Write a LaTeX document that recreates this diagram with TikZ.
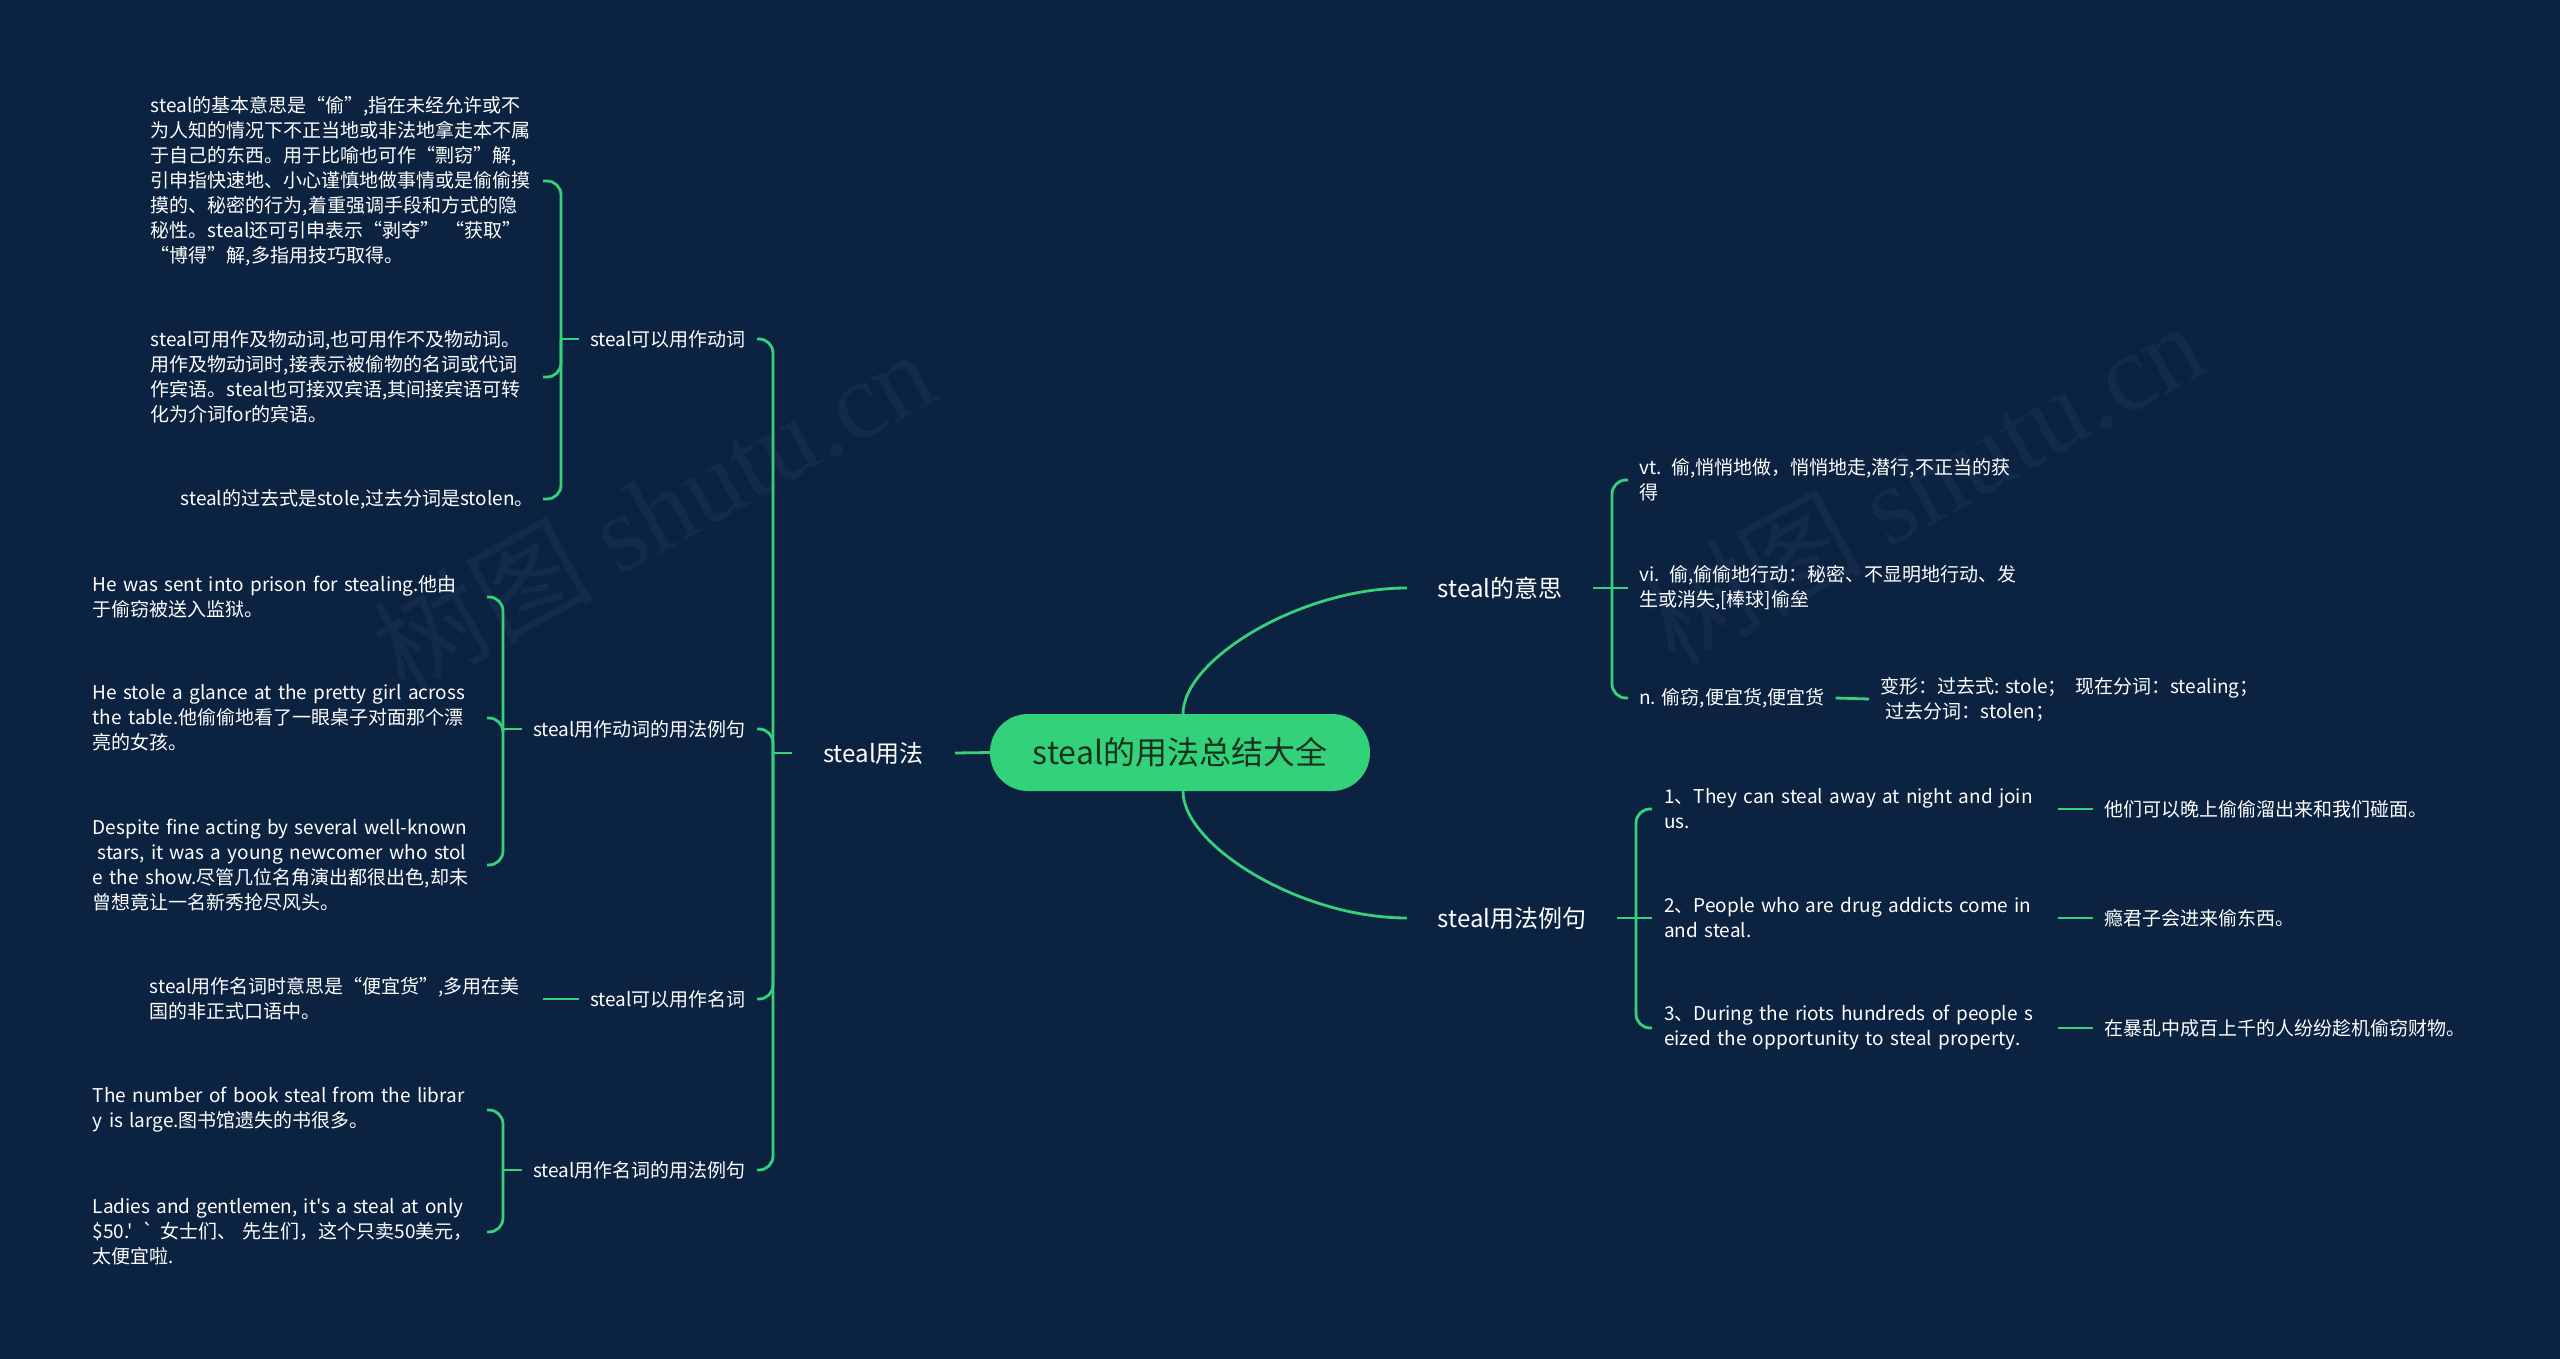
\documentclass[tikz,border=0pt]{standalone}
\usepackage{fontspec}
\setmainfont{Noto Sans CJK SC}[Ligatures=TeXOff]
\newfontfamily\wmserif{Liberation Serif}
\usetikzlibrary{calc}
\definecolor{bg}{HTML}{0C2241}
\definecolor{gr}{HTML}{37D17B}
\definecolor{rootfill}{HTML}{33D17A}
\definecolor{roottext}{HTML}{15331F}
\definecolor{wm}{HTML}{132A4B}
\begin{document}
\begin{tikzpicture}[x=1pt,y=-1pt,
  mmlink/.style={draw=gr, line width=2.8pt},
  mmbrace/.style={mmlink, rounded corners=14pt},
  mmnote/.style={text=white, font=\fontsize{19}{25}\selectfont, align=left, inner ysep=0pt, inner xsep=0pt},
  mmhead/.style={text=white, font=\fontsize{24}{30}\selectfont, inner sep=0pt},
  mmsub/.style={text=white, font=\fontsize{19}{25}\selectfont, inner ysep=0pt, inner xsep=11pt},
  mmroot/.style={fill=rootfill, text=roottext, font=\fontsize{32}{38}\selectfont, rounded corners=38pt, minimum width=380pt, minimum height=77pt, inner sep=0pt},
  mmwm/.style={text=wm, font=\fontsize{110}{120}\selectfont, rotate=29, inner sep=0pt}]
\useasboundingbox (0,0) rectangle (2560,1359);
\fill[bg] (0,0) rectangle (2560,1359);

% watermarks
\node[mmwm] (wm1) at (653,510) {树图 {\wmserif shutu.cn}};
\node[mmwm] (wm2) at (1923,482) {树图 {\wmserif shutu.cn}};

% root
\node[mmroot] (root) at (1180,752.5) {steal的用法总结大全};

% ---------- left side ----------
\node[mmhead, minimum width=163pt] (L) at (873.5,753) {steal用法};
\coordinate (jL) at (773,753);

\node[mmsub, anchor=east] (A1) at (757,339) {steal可以用作动词};
\node[mmsub, anchor=east] (A2) at (757,729) {steal用作动词的用法例句};
\node[mmsub, anchor=east] (A3) at (757,999) {steal可以用作名词};
\node[mmsub, anchor=east] (A4) at (757,1170) {steal用作名词的用法例句};

\node[mmnote, anchor=east, text width=392pt] (t1) at (543,181) {steal的基本意思是“偷”,指在未经允许或不\\为人知的情况下不正当地或非法地拿走本不属\\于自己的东西。用于比喻也可作“剽窃”解,\\引申指快速地、小心谨慎地做事情或是偷偷摸\\摸的、秘密的行为,着重强调手段和方式的隐\\秘性。steal还可引申表示“剥夺” “获取”\\“博得”解,多指用技巧取得。};
\node[mmnote, anchor=east, text width=392pt] (t2) at (543,377) {steal可用作及物动词,也可用作不及物动词。\\用作及物动词时,接表示被偷物的名词或代词\\作宾语。steal也可接双宾语,其间接宾语可转\\化为介词for的宾语。};
\node[mmnote, anchor=east, inner xsep=9pt] (t3) at (543,499) {steal的过去式是stole,过去分词是stolen。};

\node[mmnote, anchor=east, text width=394pt] (ex1) at (487,597) {He was sent into prison for stealing.他由\\于偷窃被送入监狱。};
\node[mmnote, anchor=east, text width=394pt] (ex2) at (487,718) {He stole a glance at the pretty girl across\\the table.他偷偷地看了一眼桌子对面那个漂\\亮的女孩。};
\node[mmnote, anchor=east, text width=394pt] (ex3) at (487,865) {Despite fine acting by several well-known\\\hspace*{0.25em}stars, it was a young newcomer who stol\\e the show.尽管几位名角演出都很出色,却未\\曾想竟让一名新秀抢尽风头。};

\node[mmnote, anchor=east, text width=393pt] (t7) at (543,999) {steal用作名词时意思是“便宜货”,多用在美\\国的非正式口语中。};

\node[mmnote, anchor=east, text width=394pt] (ex4) at (487,1110) {The number of book steal from the librar\\y is large.图书馆遗失的书很多。};
\node[mmnote, anchor=east, text width=394pt] (ex5) at (487,1232) {Ladies and gentlemen, it's a steal at only\\\$50.' ` 女士们、 先生们，这个只卖50美元，\\太便宜啦.};

\draw[mmlink] (root.west) -- (L.east);
\draw[mmlink] (L.west) -- (jL);
\draw[mmbrace] (jL) |- (A1.east);
\draw[mmbrace] (jL) |- (A2.east);
\draw[mmbrace] (jL) |- (A3.east);
\draw[mmbrace] (jL) |- (A4.east);

\coordinate (j1) at (561,339);
\draw[mmlink] (A1.west) -- (j1);
\draw[mmbrace] (j1) |- (t1.east);
\draw[mmbrace] (j1) |- (t2.east);
\draw[mmbrace] (j1) |- (t3.east);

\coordinate (j2) at (503,729);
\draw[mmlink] (A2.west) -- (j2);
\draw[mmbrace] (j2) |- (ex1.east);
\draw[mmbrace] (j2) |- (ex2.east);
\draw[mmbrace] (j2) |- (ex3.east);

\draw[mmlink] (A3.west) -- (t7.east);

\coordinate (j4) at (503,1170);
\draw[mmlink] (A4.west) -- (j4);
\draw[mmbrace] (j4) |- (ex4.east);
\draw[mmbrace] (j4) |- (ex5.east);

% ---------- right side ----------
\node[mmhead, minimum width=186pt] (R1) at (1500,588) {steal的意思};
\node[mmhead, minimum width=210pt] (R2) at (1512,918) {steal用法例句};

\draw[mmlink] ($(root.north)+(3,0)$) .. controls +(0,-54) and +(-107,0) .. (R1.west);
\draw[mmlink] ($(root.south)+(3,0)$) .. controls +(0,54) and +(-107,0) .. (R2.west);

\node[mmnote, anchor=west, inner xsep=11pt, text width=385pt] (vt) at (1628,480) {vt. 偷,悄悄地做，悄悄地走,潜行,不正当的获\\得};
\node[mmnote, anchor=west, inner xsep=11pt, text width=390pt] (vi) at (1628,588) {vi. 偷,偷偷地行动：秘密、不显明地行动、发\\生或消失,[棒球]偷垒};
\node[mmnote, anchor=west, inner xsep=11pt] (nn) at (1628,698) {n. 偷窃,便宜货,便宜货};
\node[mmnote, anchor=west, inner xsep=11pt] (bx) at (1869,699) {变形：过去式: stole；\ \ 现在分词：stealing；\\\hspace*{0.3em}过去分词：stolen；};

\coordinate (jR1) at (1612,588);
\draw[mmlink] (R1.east) -- (jR1);
\draw[mmbrace] (jR1) |- (vt.west);
\draw[mmlink] (jR1) -- (vi.west);
\draw[mmbrace] (jR1) |- (nn.west);
\draw[mmlink] (nn.east) -- (bx.west);

\node[mmnote, anchor=west, inner xsep=12pt, text width=382pt] (e1) at (1652,809) {1、They can steal away at night and join\\us.};
\node[mmnote, anchor=west, inner xsep=12pt, text width=382pt] (e2) at (1652,918) {2、People who are drug addicts come in\\and steal.};
\node[mmnote, anchor=west, inner xsep=12pt, text width=382pt] (e3) at (1652,1028) {3、During the riots hundreds of people s\\eized the opportunity to steal property.};

\node[mmnote, anchor=west, inner xsep=11pt] (c1) at (2093,809) {他们可以晚上偷偷溜出来和我们碰面。};
\node[mmnote, anchor=west, inner xsep=11pt] (c2) at (2093,918) {瘾君子会进来偷东西。};
\node[mmnote, anchor=west, inner xsep=11pt] (c3) at (2093,1028) {在暴乱中成百上千的人纷纷趁机偷窃财物。};

\coordinate (jR2) at (1636,918);
\draw[mmlink] (R2.east) -- (jR2);
\draw[mmbrace] (jR2) |- (e1.west);
\draw[mmlink] (jR2) -- (e2.west);
\draw[mmbrace] (jR2) |- (e3.west);
\draw[mmlink] (e1.east) -- (c1.west);
\draw[mmlink] (e2.east) -- (c2.west);
\draw[mmlink] (e3.east) -- (c3.west);
\end{tikzpicture}
\end{document}
